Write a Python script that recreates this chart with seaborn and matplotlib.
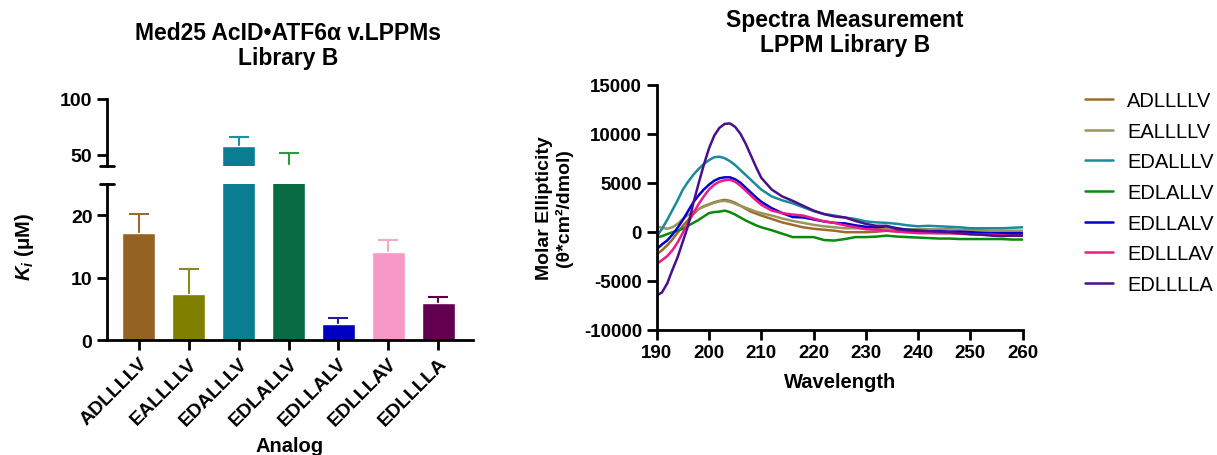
import pandas as pd
import matplotlib
matplotlib.use("Agg")
import matplotlib.pyplot as plt
import seaborn as sns

sns.set_style("ticks")
plt.rcParams['font.family'] = ['Liberation Sans', 'DejaVu Sans']
plt.rcParams['mathtext.fontset'] = 'custom'
plt.rcParams['mathtext.it'] = 'Liberation Sans:italic:bold'
plt.rcParams['mathtext.rm'] = 'Liberation Sans:bold'
plt.rcParams['axes.unicode_minus'] = False
for key in ['text.color', 'axes.labelcolor', 'xtick.color', 'ytick.color', 'axes.edgecolor']:
    plt.rcParams[key] = 'black'

# ---- data: Ki bar chart ----
analogs = ['ADLLLLV', 'EALLLLV', 'EDALLLV', 'EDLALLV', 'EDLLALV', 'EDLLLAV', 'EDLLLLA']
ki_mean = [17.2, 7.3, 58.3, 40.8, 2.6, 14.05, 5.85]
ki_err = [3.0, 4.0, 8.0, 10.4, 1.0, 2.0, 1.0]
bar_colors = ['#956321', '#808000', '#0a7d92', '#086b43', '#0000c0', '#f799c6', '#62004f']
err_colors = ['#9a6a30', '#8a8a20', '#1a8fa5', '#2a9a3a', '#202090', '#f2a9cc', '#5a0048']

# ---- data: CD spectra ----
wavelength = list(range(190, 211)) + list(range(212, 261, 2))
spec_ADLLLLV = [-2300, -1900, -1400, -800, -100, 600, 1200, 1800, 2300, 2600, 2800, 3000, 3150, 3250, 3150, 2950, 2650, 2350, 2050, 1850, 1650,
                1300, 950, 700, 450, 300, 200, 100, -50, -50, -50, 0, 100, 50, -50, -100, -100, -150, -150, -200, -250, -250, -300, -300, -350, -350]
spec_EALLLLV = [550, 400, 300, 450, 800, 1300, 1700, 2000, 2300, 2550, 2750, 2950, 3100, 3150, 3050, 2850, 2650, 2450, 2250, 2050, 1900,
                1650, 1350, 1100, 900, 700, 550, 450, 350, 350, 350, 350, 300, 250, 250, 250, 250, 250, 250, 200, 200, 150, 100, 100, 100, 100]
spec_EDALLLV = [-500, 300, 1200, 2200, 3200, 4300, 5100, 5800, 6400, 6900, 7300, 7600, 7650, 7500, 7200, 6800, 6300, 5800, 5300, 4800, 4300,
                3600, 3200, 2900, 2500, 2100, 1800, 1650, 1450, 1300, 1050, 950, 900, 800, 650, 550, 600, 550, 500, 450, 350, 350, 350, 350, 400, 450]
spec_EDLALLV = [-600, -450, -250, -50, 100, 300, 600, 900, 1200, 1550, 1900, 2000, 2050, 2150, 2000, 1750, 1450, 1150, 900, 650, 450,
                150, -200, -550, -550, -550, -850, -900, -750, -550, -550, -500, -400, -500, -550, -600, -650, -700, -700, -750, -750, -750, -750, -750, -800, -800]
spec_EDLLALV = [-1800, -1300, -900, -300, 400, 1200, 2100, 3000, 3700, 4300, 4800, 5200, 5450, 5550, 5550, 5350, 5000, 4500, 4000, 3500, 3050,
                2400, 1900, 1500, 1450, 1250, 1050, 900, 850, 650, 500, 450, 550, 350, 200, 100, 50, 50, 0, 0, -50, -100, -150, -150, -150, -150]
spec_EDLLLAV = [-3300, -2900, -2500, -1900, -1100, -100, 900, 1900, 2800, 3600, 4300, 4800, 5100, 5250, 5300, 5100, 4700, 4200, 3700, 3200, 2750,
                2150, 1900, 1750, 1650, 1350, 1050, 900, 650, 450, 250, 200, 100, 0, -50, -150, -150, -150, -150, -200, -250, -300, -300, -350, -400, -400]
spec_EDLLLLA = [-6500, -6200, -5300, -3900, -2600, -1000, 600, 2900, 4900, 6800, 8500, 9800, 10600, 11000, 11050, 10700, 10000, 9000, 7800, 6600, 5500,
                4300, 3600, 3150, 2650, 2150, 1800, 1550, 1450, 1100, 800, 600, 600, 250, 150, 100, 50, 0, -50, -150, -250, -300, -400, -450, -400, -400]
spectra = [spec_ADLLLLV, spec_EALLLLV, spec_EDALLLV, spec_EDLALLV, spec_EDLLALV, spec_EDLLLAV, spec_EDLLLLA]
line_colors = ['#9b6b2e', '#9a9460', '#1a8a9c', '#0a8a0a', '#0000cc', '#ee1a8a', '#4b0f8a']

bars = pd.DataFrame({'analog': analogs, 'ki': ki_mean})
spec_df = pd.concat([pd.DataFrame({'wavelength': wavelength, 'ellipticity': s, 'analog': a})
                     for a, s in zip(analogs, spectra)], ignore_index=True)

fig = plt.figure(figsize=(12.17, 4.56), dpi=100)
W, H = 1217, 456

# ---- left: broken-axis bar chart ----
ax_top = fig.add_axes([107 / W, 1 - 167 / H, 366 / W, 67 / H])
ax_bot = fig.add_axes([107 / W, 1 - 341 / H, 366 / W, 156 / H])

for ax in (ax_top, ax_bot):
    sns.barplot(data=bars, x='analog', y='ki', hue='analog', palette=bar_colors,
                order=analogs, width=0.66, saturation=1, legend=False, ax=ax, zorder=2)
    # error bars sit behind the bars, so only the upper half shows
    for i in range(len(analogs)):
        ax.errorbar(i, ki_mean[i], yerr=ki_err[i], color=err_colors[i], capsize=7,
                    capthick=1.5, elinewidth=1.5, zorder=1)
    ax.set_xlim(-0.64, 6.7)
    ax.set_xlabel('')
    ax.set_ylabel('')
    for s in ['top', 'right']:
        ax.spines[s].set_visible(False)
    ax.spines['left'].set_linewidth(2)
    ax.spines['bottom'].set_linewidth(2)
    ax.tick_params(width=2, length=7, labelsize=14)

ax_top.set_ylim(40, 100)
ax_top.set_yticks([50, 100])
ax_top.spines['bottom'].set_visible(False)
ax_top.tick_params(axis='x', bottom=False, labelbottom=False)
ax_bot.set_ylim(0, 25)
ax_bot.set_yticks([0, 10, 20])

# break marks
ax_top.plot([-0.02, 0.02], [0, 0], transform=ax_top.transAxes, color='black', lw=2, clip_on=False)
ax_bot.plot([-0.02, 0.02], [1, 1], transform=ax_bot.transAxes, color='black', lw=2, clip_on=False)

for lbl in ax_top.get_yticklabels() + ax_bot.get_yticklabels():
    lbl.set_fontweight('bold')
ax_bot.set_xticks(range(len(analogs)))
ax_bot.set_xticklabels(analogs, rotation=45, ha='right', rotation_mode='anchor',
                       fontweight='bold', fontsize=14)
ax_bot.set_xlabel('Analog', fontsize=14.5, fontweight='bold', labelpad=5)

fig.text(25 / W, 1 - 247 / H, r'$K_i$ (μM)', rotation=90, ha='center', va='center',
         fontsize=14.5, fontweight='bold')
fig.text(288 / W, 1 - 46 / H, 'Med25 AcID•ATF6α v.LPPMs\nLibrary B', ha='center', va='center',
         fontsize=16.5, fontweight='bold', linespacing=1.1)

# ---- right: CD spectra ----
ax2 = fig.add_axes([656.7 / W, 1 - 330.7 / H, 366 / W, 245 / H])
sns.lineplot(data=spec_df, x='wavelength', y='ellipticity', hue='analog', hue_order=analogs,
             palette=line_colors, linewidth=1.8, ax=ax2)
ax2.set_xlim(190, 260)
ax2.set_ylim(-10000, 15000)
ax2.set_xticks(range(190, 261, 10))
ax2.set_yticks(range(-10000, 15001, 5000))
for s in ['top', 'right']:
    ax2.spines[s].set_visible(False)
ax2.spines['left'].set_linewidth(2)
ax2.spines['bottom'].set_linewidth(2)
ax2.tick_params(width=2, length=7, labelsize=13.5)
for lbl in ax2.get_xticklabels() + ax2.get_yticklabels():
    lbl.set_fontweight('bold')
ax2.set_xlabel('Wavelength', fontsize=14.5, fontweight='bold', labelpad=8)
ax2.set_ylabel('Molar Ellipticity\n(θ*cm²/dmol)', fontsize=14, fontweight='bold', labelpad=8,
               linespacing=1.1)
fig.text(845 / W, 1 - 33 / H, 'Spectra Measurement\nLPPM Library B', ha='center', va='center',
         fontsize=16.5, fontweight='bold', linespacing=1.1)

handles, labels = ax2.get_legend_handles_labels()
ax2.get_legend().remove()
fig.legend(handles, labels, loc='upper left', bbox_to_anchor=(1085 / W, 1 - 92 / H),
           frameon=False, fontsize=14.5, handlelength=1.4, labelspacing=0.58,
           handletextpad=0.7, borderpad=0, borderaxespad=0)

fig.savefig('out.png', dpi=100, facecolor='white')
